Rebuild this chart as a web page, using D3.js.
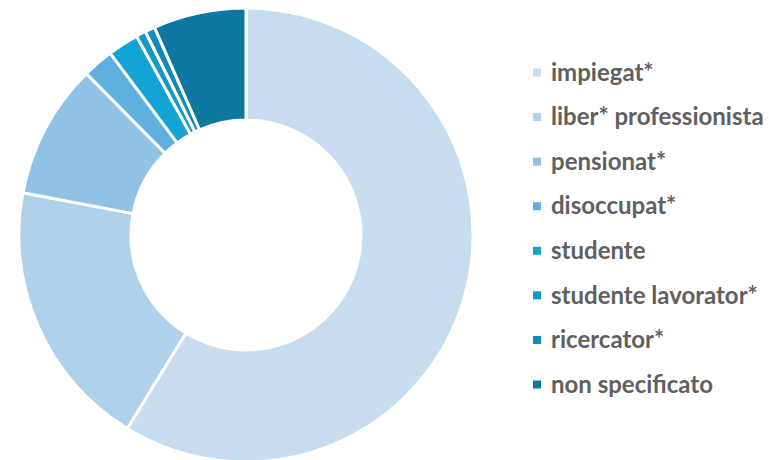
<!DOCTYPE html>
<html>
<head>
<meta charset="utf-8">
<script src="https://cdn.jsdelivr.net/npm/d3@7"></script>
<style>
  body { margin: 0; background: #fff; }
  svg { display: block; }
</style>
</head>
<body>
<div id="chart"></div>
<script>
const categories = ["impiegat*", "liber* professionista", "pensionat*", "disoccupat*",
  "studente", "studente lavorator*", "ricercator*", "non specificato"];
const values = [587, 192, 96, 22, 22, 7, 7, 66];
const colors = ["#c8dcf0", "#b0d1ea", "#91c1e4", "#5fb0de", "#13a3d4", "#1497c9", "#1389ba", "#0d789f"];

const width = 769,
  height = 460;

const svg = d3.select("#chart")
  .append("svg")
  .attr("width", width)
  .attr("height", height);

const data = categories.map((c, i) => ({ name: c, value: values[i] }));

const color = d3.scaleOrdinal()
  .domain(categories)
  .range(colors);

const pie = d3.pie()
  .value(d => d.value)
  .sort(null);

const arc = d3.arc()
  .innerRadius(115)
  .outerRadius(227);

// donut
svg.append("g")
  .attr("transform", "translate(246,235)")
  .selectAll("path")
  .data(pie(data))
  .join("path")
  .attr("d", arc)
  .attr("fill", d => color(d.data.name))
  .attr("stroke", "#fff")
  .attr("stroke-width", 3)
  .attr("stroke-linejoin", "miter");

// legend
const y = d3.scalePoint()
  .domain(categories)
  .range([73, 385]);

const legend = svg.append("g")
  .selectAll("g")
  .data(categories)
  .join("g")
  .attr("transform", d => `translate(533,${y(d)})`);

legend.append("rect")
  .attr("x", 0)
  .attr("y", -4.5)
  .attr("width", 8)
  .attr("height", 8)
  .attr("fill", d => color(d));

legend.append("text")
  .attr("x", 18)
  .attr("dy", "0.32em")
  .attr("font-family", "Lato, sans-serif")
  .attr("font-weight", "bold")
  .attr("font-size", 24)
  .attr("fill", "#606060")
  .text(d => d);
</script>
</body>
</html>
